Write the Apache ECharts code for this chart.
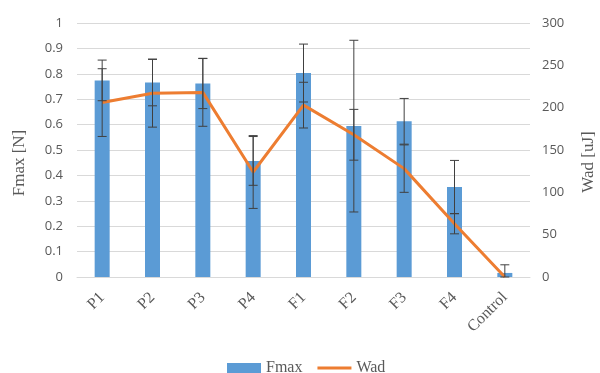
<!DOCTYPE html>
<html>
<head>
<meta charset="utf-8">
<script src="https://cdn.jsdelivr.net/npm/echarts@6/dist/echarts.min.js"></script>
<style>html,body{margin:0;padding:0;background:#fff;}#c{width:600px;height:373px;}</style>
</head>
<body>
<div id="c"></div>
<script>
const categories = ['P1', 'P2', 'P3', 'P4', 'F1', 'F2', 'F3', 'F4', 'Control'];
const fmax = [0.774, 0.766, 0.762, 0.457, 0.803, 0.594, 0.613, 0.354, 0.016];
const fmaxErr = [0.080, 0.092, 0.099, 0.096, 0.114, 0.338, 0.090, 0.105, 0.032];
const wad = [206, 217, 218, 124, 203, 168, 128, 63, 0];
const wadErr = [40, 40, 40, 43, 27, 30, 28, 12, 0];

const serif = '"Liberation Serif", "DejaVu Serif", serif';
const sans = '"Open Sans", "Liberation Sans", sans-serif';
const txt = '#595959';

function errRender(params, api) {
  const i = api.value(0);
  const v = api.value(1);
  const e = api.value(2);
  const top = api.coord([i, v + e]);
  const bot = api.coord([i, Math.max(0, v - e)]);
  const hw = 4.5;
  const st = {stroke: '#404040', lineWidth: 1};
  const children = [
    {type: 'line', shape: {x1: top[0], y1: top[1], x2: bot[0], y2: bot[1]}, style: st},
    {type: 'line', shape: {x1: top[0] - hw, y1: top[1], x2: top[0] + hw, y2: top[1]}, style: st}
  ];
  if (v - e > 0) {
    children.push({type: 'line', shape: {x1: bot[0] - hw, y1: bot[1], x2: bot[0] + hw, y2: bot[1]}, style: st});
  }
  return {type: 'group', children: children};
}

const chart = echarts.init(document.getElementById('c'), null, {renderer: 'canvas'});
chart.setOption({
  animation: false,
  backgroundColor: '#fff',
  grid: {left: 77, right: 70, top: 23, bottom: 96},
  legend: {
    top: 360,
    left: 227,
    padding: 0,
    itemGap: 15,
    itemWidth: 34,
    itemHeight: 10,
    textStyle: {fontFamily: serif, fontSize: 16, color: txt},
    data: [
      {name: 'Fmax', icon: 'rect'},
      {name: 'Wad', icon: 'path://M0,0 L34,0 L34,3 L0,3 Z'}
    ]
  },
  graphic: [
    {type: 'text', x: 20, y: 163, rotation: Math.PI / 2,
     style: {text: 'Fmax [N]', fontFamily: serif, fontSize: 17, fill: txt, align: 'center', verticalAlign: 'middle'}},
    {type: 'text', x: 589, y: 162, rotation: Math.PI / 2,
     style: {text: 'Wad [uJ]', fontFamily: serif, fontSize: 17, fill: txt, align: 'center', verticalAlign: 'middle'}}
  ],
  xAxis: {
    type: 'category',
    data: categories,
    axisLine: {lineStyle: {color: '#D9D9D9'}},
    axisTick: {show: false},
    axisLabel: {rotate: 45, fontFamily: serif, fontSize: 16, color: txt, margin: 18, interval: 0}
  },
  yAxis: [
    {
      type: 'value', min: 0, max: 1, interval: 0.1,
      axisLabel: {fontFamily: sans, fontSize: 13, color: txt, margin: 14},
      axisLine: {show: false}, axisTick: {show: false},
      splitLine: {lineStyle: {color: '#D9D9D9'}}
    },
    {
      type: 'value', min: 0, max: 300, interval: 50,
      axisLabel: {fontFamily: sans, fontSize: 13, color: txt, margin: 12},
      axisLine: {show: false}, axisTick: {show: false},
      splitLine: {show: false}
    }
  ],
  series: [
    {
      name: 'Fmax', type: 'bar', data: fmax, barWidth: 15,
      itemStyle: {color: '#5B9BD5'}, yAxisIndex: 0, z: 2
    },
    {
      name: 'Wad', type: 'line', data: wad, yAxisIndex: 1,
      symbol: 'none', lineStyle: {color: '#ED7D31', width: 3}, itemStyle: {color: '#ED7D31'}, z: 3
    },
    {
      name: 'FmaxErr', type: 'custom', yAxisIndex: 0, z: 4,
      renderItem: errRender,
      data: categories.map((c, i) => [i, fmax[i], fmaxErr[i]])
    },
    {
      name: 'WadErr', type: 'custom', yAxisIndex: 1, z: 4,
      renderItem: errRender,
      data: categories.map((c, i) => [i, wad[i], wadErr[i]])
    }
  ]
});
</script>
</body>
</html>
